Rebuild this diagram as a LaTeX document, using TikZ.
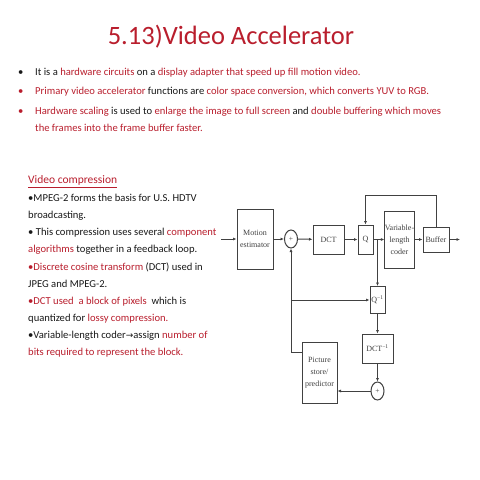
\documentclass[tikz,border=0pt]{standalone}
\usepackage{fontspec}
\setmainfont{Carlito}
\newfontfamily\diag{Liberation Serif}
\newfontfamily\symf{DejaVu Sans}
\usetikzlibrary{arrows.meta,shapes.geometric}
\definecolor{tred}{RGB}{185,30,45}
\definecolor{tblk}{RGB}{25,25,25}
\definecolor{dline}{RGB}{65,65,65}
\newcommand{\rd}[1]{\textcolor{tred}{#1}}
\begin{document}
\begin{tikzpicture}[x=1bp,y=-1bp,
  title/.style={anchor=base, inner sep=0pt, text=tred, font=\fontsize{26.5bp}{30bp}\selectfont},
  topline/.style={anchor=base west, inner sep=0pt, text=tblk, font=\fontsize{10.6bp}{12bp}\selectfont},
  txt/.style={anchor=base west, inner sep=0pt, text=tblk, font=\fontsize{10.6bp}{12bp}\selectfont},
  blk/.style={draw=dline, line width=1bp, inner sep=0pt, align=center, text=dline,
              font=\diag\fontsize{8bp}{12bp}\selectfont},
  sumnode/.style={draw=dline, line width=1bp, ellipse, inner sep=0pt, minimum width=13bp,
              minimum height=18bp, text=dline, font=\diag\fontsize{7.5bp}{8bp}\selectfont},
  conn/.style={draw=dline, line width=1bp, -{Latex[length=3.5bp,width=3bp]}},
]
\useasboundingbox[fill=white] (0,0) rectangle (480,480);

% title
\node[title] (t) at (231,45) {5.13)Video Accelerator};

% top bullets
\node[topline] (b1) at (18,76) {•};
\node[topline] (l1) at (35,76) {It is a \rd{hardware circuits} on a \rd{display adapter that speed up fill motion video.}};
\node[topline, text=tred] (b2) at (18,95) {•};
\node[topline] (l2) at (35,95) {\rd{Primary video accelerator} functions are \rd{color space conversion, which converts YUV to RGB.}};
\node[topline, text=tred] (b3) at (18,115) {•};
\node[topline] (l3) at (35,115) {\rd{Hardware scaling} is used to \rd{enlarge the image to full screen} and \rd{double buffering which moves}};
\node[topline] (l4) at (35,132) {\rd{the frames into the frame buffer faster.}};

% left text block
\node[txt, font=\fontsize{11.5bp}{13bp}\selectfont, text=tred] (h) at (28,184) {\underline{Video compression}};
\node[txt] (c1) at (28,201) {•MPEG-2 forms the basis for U.S. HDTV};
\node[txt] (c2) at (28,218) {broadcasting.};
\node[txt] (c3) at (28,235) {• This compression uses several \rd{component}};
\node[txt] (c4) at (28,252) {\rd{algorithms} together in a feedback loop.};
\node[txt] (c5) at (28,270) {\rd{•Discrete cosine transform} (DCT) used in};
\node[txt] (c6) at (28,287) {JPEG and MPEG-2.};
\node[txt] (c7) at (28,304) {\rd{•DCT used\ \ a block of pixels}\ \ which is};
\node[txt] (c8) at (28,321) {quantized for \rd{lossy compression.}};
\node[txt] (c9) at (28,338) {•Variable-length coder{\symf\fontsize{9bp}{10bp}\selectfont →}assign \rd{number of}};
\node[txt] (c10) at (28,355) {\rd{bits required to represent the block.}};

% diagram blocks
\node[blk, minimum width=36bp, minimum height=60bp] (mot) at (255,239) {Motion\\estimator};
\node[sumnode] (s1) at (291,239) {+};
\node[blk, minimum width=31bp, minimum height=29bp] (dct) at (328.5,239.5) {DCT};
\node[blk, minimum width=15bp, minimum height=29bp] (q) at (365.5,239.5) {Q};
\node[blk, minimum width=29bp, minimum height=57bp] (vlc) at (399.5,239.5) {Variable-\\length\\coder};
\node[blk, minimum width=26bp, minimum height=25bp] (buf) at (436,239.5) {Buffer};
\node[blk, minimum width=15bp, minimum height=27bp] (qi) at (377.5,300) {Q\textsuperscript{−1}};
\node[blk, minimum width=31bp, minimum height=29bp] (dcti) at (377.5,348.5) {DCT\textsuperscript{−1}};
\node[sumnode] (s2) at (377.5,391) {+};
\node[blk, minimum width=35bp, minimum height=61bp] (ps) at (319.5,372.5) {Picture\\store/\\predictor};

\coordinate (in) at (221,239);
\coordinate (out) at (460,239.5);
\coordinate (br) at (377.5,239.5);
\coordinate (pl) at (302,352);

% connectors
\draw[conn] (in) -- (mot);
\draw[conn] (mot) -- (s1);
\draw[conn] (s1) -- (dct);
\draw[conn] (dct) -- (q);
\draw[conn] (q) -- (vlc);
\draw[conn] (vlc) -- (buf);
\draw[conn] (buf) -- (out);
\draw[conn] (buf.north) -- ++(0,-31) -| (q.north);
\draw[conn] (br) -- (qi);
\draw[conn] (qi) -- (dcti);
\draw[conn] (dcti) -- (s2);
\draw[conn] (s2.west) -- (s2.west -| ps.east);
\draw[conn] (pl) -| (s1.south);
\draw[conn] (s1.south |- qi.west) -- (qi.west);
\end{tikzpicture}
\end{document}
